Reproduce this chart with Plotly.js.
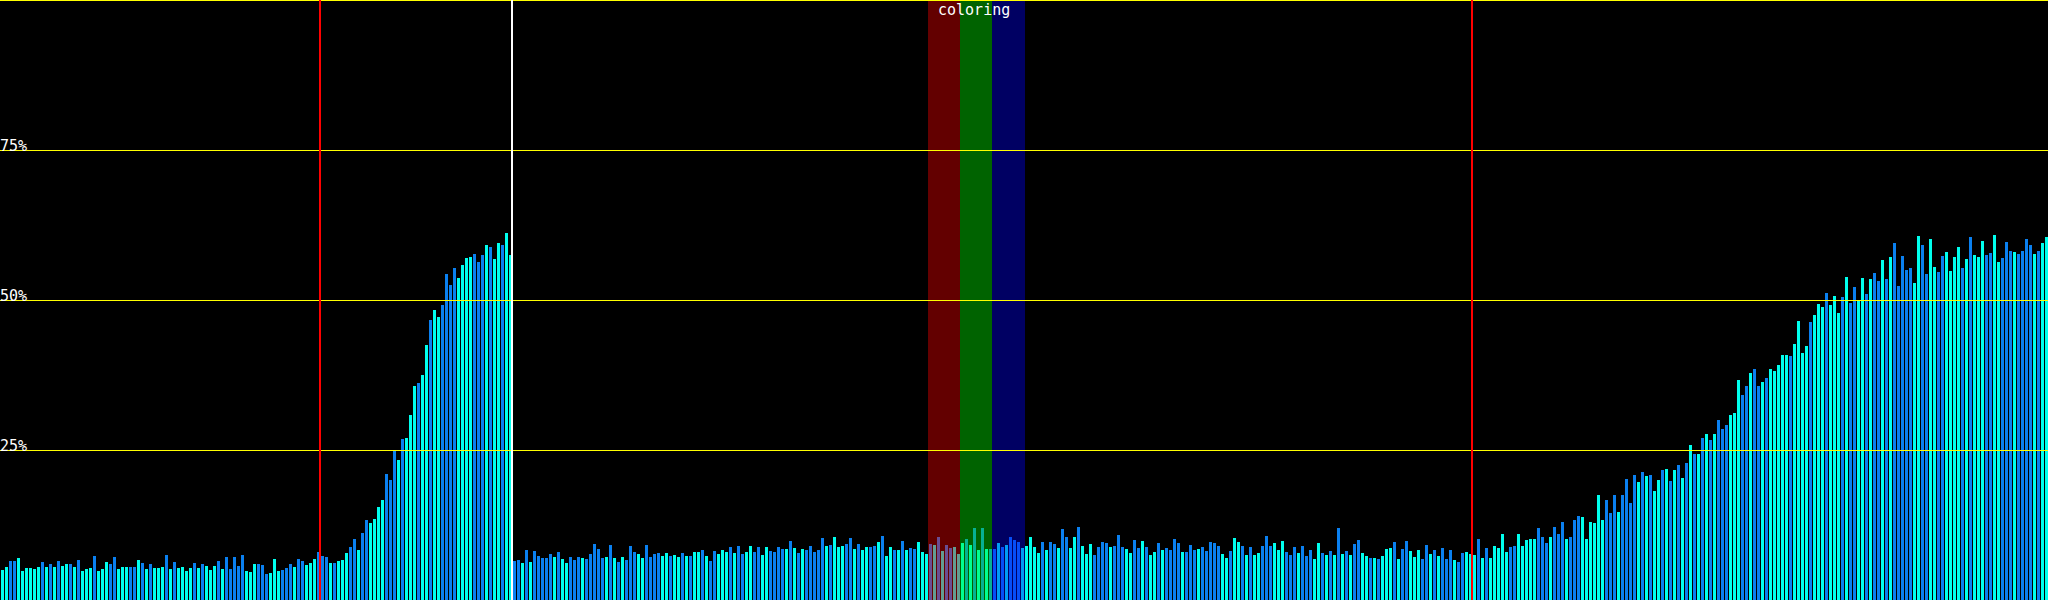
<!DOCTYPE html>
<html>
<head>
<meta charset="utf-8">
<script src="https://cdn.plot.ly/plotly-3.0.1.min.js"></script>
<style>
  html, body { margin: 0; padding: 0; background: #000; }
  #chart { width: 2048px; height: 600px; }
</style>
</head>
<body>
<div id="chart"></div>
<script>
// ---- data (percent values per sample) ----
const baselineA = [
  5.0,5.5,6.5,6.5,7.0,4.83,5.33,5.33,5.17,5.5,
  6.33,5.5,6.0,5.5,6.5,5.67,6.0,6.0,5.5,6.67,
  4.83,5.17,5.33,7.33,4.83,5.17,6.33,6.0,7.17,5.17,
  5.5,5.5,5.5,5.5,6.67,6.17,5.17,6.0,5.33,5.33,
  5.5,7.5,5.17,6.33,5.33,5.5,4.83,5.33,6.17,5.33,
  6.0,5.67,5.0,5.67,6.5,5.17,7.17,5.17,7.17,5.67,
  7.5,4.83,4.67,6.0,6.0,5.83,4.33,4.5,6.83,4.83,
  5.0,5.33,6.0,5.5,6.83,6.5,5.83,6.17,6.83,8.0
];
const surgeA = [
  7.33,7.17,6.17,6.17,6.5,6.67,7.83,8.83,10.17,8.33,
  11.17,13.33,12.83,13.5,15.5,16.67,21.0,20.0,24.83,23.33,
  26.83,27.0,30.83,35.67,36.17,37.5,42.5,46.67,48.33,47.17,
  49.17,54.33,52.5,55.33,53.67,55.83,57.0,57.17,57.67,56.33,
  57.5,59.17,58.83,56.83,59.5,59.17,61.17,57.5
];
const baselineB = [
  6.5,6.67,6.17,8.33,6.33,8.17,7.33,7.0,7.0,7.67,
  7.17,8.0,6.83,6.17,7.17,6.67,7.17,7.0,6.83,7.67,
  9.33,8.5,7.0,7.17,9.17,7.0,6.33,7.17,6.67,9.0,
  8.0,7.67,7.0,9.17,7.17,7.67,7.83,7.33,7.83,7.33,
  7.5,7.17,7.83,7.33,7.33,8.0,8.0,8.33,7.33,6.5,
  8.17,7.67,8.33,8.0,8.83,7.83,9.0,7.67,8.0,9.0,
  8.0,8.83,7.5,8.83,8.17,8.0,8.83,8.5,8.5,9.83,
  8.67,7.83,8.5,8.33,9.0,8.0,8.33,10.33,9.0,9.17,
  10.5,8.83,9.0,9.33,10.33,8.5,9.33,8.33,8.83,8.83,
  9.0,9.67,10.67,7.33,8.83,8.33,8.33,9.83,8.33,8.67,
  8.5,9.67,8.0,7.67,9.33,9.17,10.5,8.17,9.17,8.67,
  8.83,7.67,9.5,10.17,9.17,12.0,8.33,12.0,8.5,8.5,
  8.5,9.5,8.83,9.17,10.5,10.0,9.67,8.67,9.0,10.5,
  8.83,7.83,9.67,8.33,9.67,9.33,8.67,11.83,10.5,8.67,
  10.5,12.17,9.0,7.67,9.33,7.5,8.83,9.67,9.5,8.83,
  9.0,10.83,8.83,8.5,7.83,10.0,8.67,9.83,8.83,7.5,
  8.0,9.5,8.33,8.67,8.33,10.17,9.5,8.0,8.0,9.17,
  8.33,8.5,8.83,8.17,9.67,9.5,9.0,7.67,7.0,8.17,
  10.33,9.67,9.0,7.5,8.83,7.5,7.83,9.0,10.67,9.0,
  9.5,8.33,9.83,8.0,7.5,8.83,7.83,9.0,7.33,8.33,
  6.83,9.5,7.83,7.5,8.17,7.5,12.0,7.67,8.17,7.5,
  9.33,10.0,7.83,7.33,7.0,7.0,6.83,7.33,8.5,8.67,
  9.67,6.83,8.5,9.83,8.17,7.17,8.33,6.83,9.17,7.67,
  8.33,7.33,8.67,6.83,8.33,6.67,6.33,7.83,8.0,7.67
];
const surgeB = [
  7.5,10.17,7.0,8.67,7.0,9.0,8.67,11.0,8.0,8.83,
  9.0,11.0,9.0,10.0,10.17,10.17,12.0,10.5,9.5,10.5,
  12.17,11.0,13.0,10.17,10.5,13.33,14.0,13.83,10.17,13.0,
  12.83,17.5,13.33,16.67,14.5,17.5,14.67,17.5,20.17,16.17,
  20.83,19.67,21.33,20.67,20.83,18.17,20.0,21.67,21.83,19.83,
  21.67,22.5,20.33,22.83,25.83,24.33,24.33,27.0,27.67,26.67,
  27.67,30.0,28.5,29.17,30.83,31.17,36.67,34.17,35.67,37.83,
  38.5,35.67,36.33,37.0,38.5,38.17,39.17,40.83,40.83,40.67,
  42.67,46.5,41.17,42.33,46.33,47.5,49.33,48.83,51.17,49.17,
  50.67,47.83,50.5,53.83,49.5,52.17,50.0,53.67,51.0,53.5,
  54.5,53.17,56.67,53.5,57.17,59.5,52.33,57.33,55.0,55.33,
  52.83,60.67,59.17,54.33,60.17,55.5,54.67,57.33,58.0,54.83,
  57.17,58.83,55.33,56.83,60.5,57.5,57.17,59.83,57.5,57.83,
  60.83,56.33,57.0,59.67,58.17,58.0,57.67,58.17,60.17,59.17,
  57.67,58.17,59.5,60.5
];

// per-sample colour class (C = cyan, B = blue)
const classA = "CCBBCCCCCC" + "BCBCBCCBCB" + "CCCBCCCBBC" + "CCBBCBCBCC" +
               "CBCBCCCCBC" + "BCCCBCBBBB" + "BCCCBBBCCC" + "BBBCBBCCCB";
const classSurgeA = "BBCBCCCBBC" + "BBCCCCBBBC" + "BCCCBCCBCC" + "BBBBCCCCBB" + "BCBCCBCC";
const classB = "BBCBCBBBBB" + "CBCCBBBCBB" + "BBBCBCBCBB" + "BCCBBBBCCB" +
               "CCBCBCCBCB" + "BCCCBCBBCC" + "BBCCBBBBCB" + "CBCBBBBBCB" +
               "CCCBBCBCCB" + "BCBCCBCBCB" + "BCCCBCBCBB" + "CCCBCBCBCB" +
               "BCBCBBBCCC" + "CCBCBBCBBC" + "CBCCCBBBBC" + "BBBCCBBCBC" +
               "CBCBBBBCBB" + "BCBBBBBCCB" + "CCBCBCCBBB" + "CCCBBBCBBB" +
               "CCBCBCBCBC" + "BBCCBCBCCC" + "BCBBCCCBBC" + "BCBBBCBBCC";
const classSurgeB = "CBCBCCCCCB" + "BCCCCCBBBC" + "BBBCBBBCCC" + "CCCBBBCBBB" +
                    "BCBCBCCBCB" + "CBCBCBCBCB" + "CBBBCCCBBC" + "BBCBCCCCCB" +
                    "CCCCBCCCBC" + "CCBCBBCCBC" + "BBCBCBBBBB" + "CCBBCCBBCC" +
                    "CCBCBCCCBB" + "CCBBBCBBBB" + "CBCC";

// event markers (sample indices)
const redMarks = [80, 368];
const whiteMarks = [128];
const colorBands = [
  {from: 232, to: 240, color: '#ff0000'},
  {from: 240, to: 248, color: '#00ff00'},
  {from: 248, to: 256, color: '#0000ff'}
];
const bandLabel = 'coloring';
const levelTicks = [25, 50, 75];
const levelLabels = ['25%', '50%', '75%'];
const topLevel = 100;

// ---- build ----
const values = baselineA.concat(surgeA, baselineB, surgeB);
const classes = (classA + classSurgeA + classB + classSurgeB).split('');
const palette = {C: '#00ffee', B: '#0a80f0'};
const xs = values.map((_, i) => i);
const colors = classes.map(c => palette[c]);

const EDGE = 0.625;          // boundary offset between samples (axis units)
const CRISP = 1 / 12;        // half pixel in y units for crisp 1px lines

const shapes = [];
colorBands.forEach((b, i) => shapes.push({
  type: 'rect', layer: 'above', xref: 'x', yref: 'paper',
  x0: b.from - EDGE, x1: b.to - EDGE + (i === colorBands.length - 1 ? 0.25 : 0),
  y0: 0, y1: 1,
  fillcolor: b.color, opacity: 0.39, line: {width: 0}
}));
levelTicks.concat([topLevel]).forEach(v => shapes.push({
  type: 'line', layer: 'above', xref: 'paper', yref: 'y',
  x0: 0, x1: 1, y0: v - CRISP, y1: v - CRISP,
  line: {color: '#ffff00', width: 1}
}));
redMarks.forEach(m => shapes.push({
  type: 'line', layer: 'above', xref: 'x', yref: 'paper',
  x0: m - EDGE, x1: m - EDGE, y0: 0, y1: 1,
  line: {color: '#ff0000', width: 2}
}));
whiteMarks.forEach(m => shapes.push({
  type: 'line', layer: 'above', xref: 'x', yref: 'paper',
  x0: m - EDGE, x1: m - EDGE, y0: 0, y1: 1,
  line: {color: '#ffffff', width: 2}
}));

const labelFont = {family: 'DejaVu Sans Mono, monospace', size: 15, color: '#ffffff'};
const annotations = levelTicks.map((v, i) => ({
  xref: 'paper', yref: 'y', x: 0, y: v, xanchor: 'left', yanchor: 'bottom',
  text: levelLabels[i], showarrow: false, font: labelFont,
  borderpad: 0, borderwidth: 0, yshift: -5
}));
annotations.push({
  xref: 'x', yref: 'paper',
  x: (colorBands[0].from + colorBands[colorBands.length - 1].to) / 2 - EDGE - 0.6,
  y: 1, xanchor: 'center', yanchor: 'top',
  text: bandLabel, showarrow: false, font: labelFont,
  borderpad: 0, borderwidth: 0, yshift: -1
});

const trace = {
  type: 'bar', x: xs, y: values,
  marker: {color: colors, line: {width: 0}},
  hoverinfo: 'skip'
};

const layout = {
  width: 2048, height: 600,
  margin: {l: 0, r: 0, t: 0, b: 0, pad: 0},
  paper_bgcolor: '#000000', plot_bgcolor: '#000000',
  showlegend: false, bargap: 0.25,
  xaxis: {range: [-EDGE, values.length - EDGE], visible: false, fixedrange: true},
  yaxis: {range: [0, 100], visible: false, fixedrange: true},
  shapes: shapes, annotations: annotations
};

Plotly.newPlot('chart', [trace], layout, {staticPlot: true, displayModeBar: false});
</script>
</body>
</html>
